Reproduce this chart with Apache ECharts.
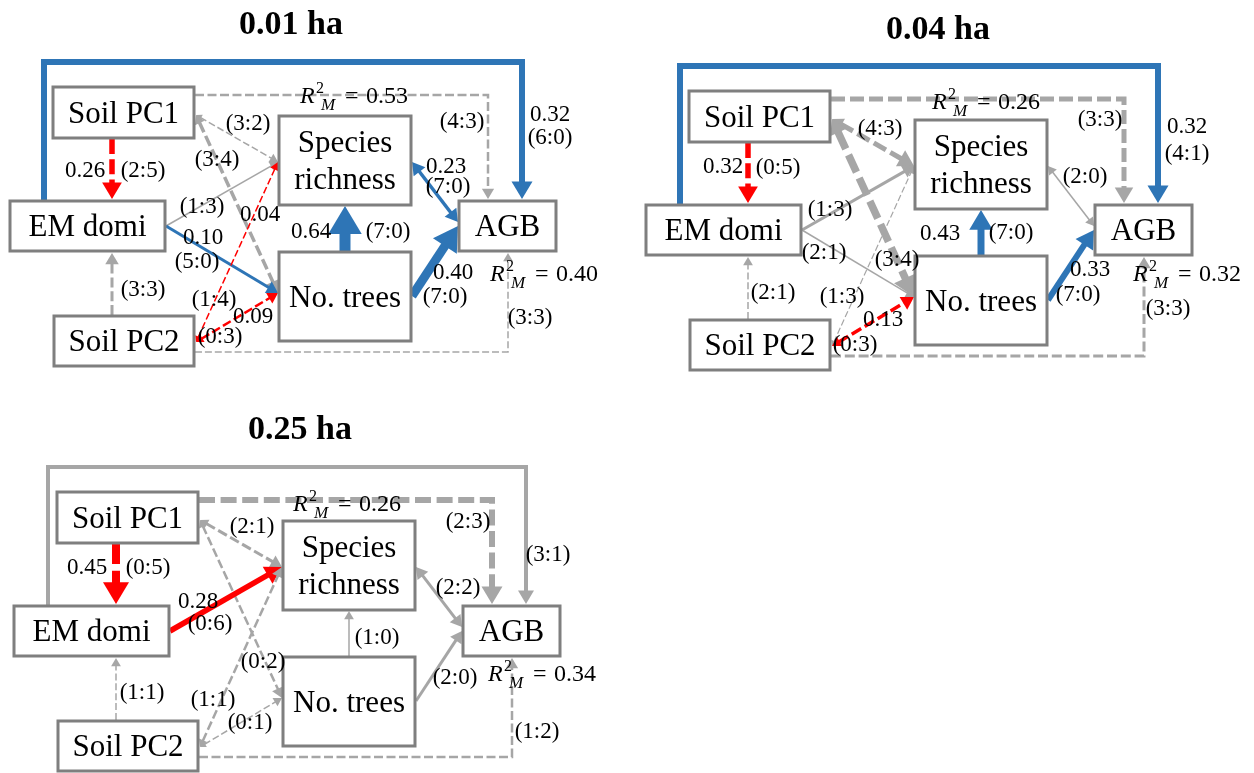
<!DOCTYPE html>
<html>
<head>
<meta charset="utf-8">
<script src="https://cdn.jsdelivr.net/npm/echarts@6/dist/echarts.min.js"></script>
<style>
  html, body { margin: 0; padding: 0; background: #fff; }
  #chart { width: 1254px; height: 773px; }
</style>
</head>
<body>
<div id="chart"></div>
<script>
// ---------- data ----------
const panelTitles = ['0.01 ha', '0.04 ha', '0.25 ha'];
const nodeNames = ['Soil PC1', 'EM domi', 'Soil PC2', 'Species\nrichness', 'No. trees', 'AGB'];
const pathKeys = ['em_agb', 'pc1_agb', 'pc2_agb', 'pc1_em', 'pc2_em', 'pc1_sr', 'pc1_nt',
                  'em_sr', 'em_nt', 'pc2_sr', 'pc2_nt', 'nt_sr', 'sr_agb', 'nt_agb'];

// standardized path coefficients (null = not significant)
const coef001 = [0.32, null, null, 0.26, null, null, null, null, 0.10, 0.04, 0.09, 0.64, 0.23, 0.40];
const coef004 = [0.32, null, null, 0.32, null, null, null, null, null, null, 0.13, 0.43, null, 0.33];
const coef025 = [null, null, null, 0.45, null, null, null, 0.28, null, null, null, null, null, null];

// number of positive : negative estimates per path (null = path absent)
const pos001 = [6, 4, 3, 2, 3, 3, 3, 1, 5, 1, 0, 7, 7, 7];
const neg001 = [0, 3, 3, 5, 3, 2, 4, 3, 0, 4, 3, 0, 0, 0];
const pos004 = [4, 3, 3, 0, 2, 4, 3, 1, 2, 1, 0, 7, 2, 7];
const neg004 = [1, 3, 3, 5, 1, 3, 4, 3, 1, 3, 3, 0, 0, 0];
const pos025 = [3, 2, 1, 0, 1, 2, 0, 0, null, 1, 0, 1, 2, 2];
const neg025 = [1, 3, 2, 5, 1, 1, 2, 6, null, 1, 1, 0, 2, 0];

// marginal R² of species richness and AGB
const r2Richness = [0.53, 0.26, 0.26];
const r2Agb = [0.40, 0.32, 0.34];

// ---------- styling ----------
const COEF = [coef001, coef004, coef025];
const POS = [pos001, pos004, pos025];
const NEG = [neg001, neg004, neg025];
const WIDTH = [
  [6, 2.5, 1.5, 5.5, 3, 1.5, 3.5, 1.5, 3, 1.5, 2.5, 11, 3.5, 9],
  [6, 5, 3, 5.5, 1.5, 5, 7.5, 3, 1.5, 1.2, 3.5, 7, 1.5, 6],
  [4, 6, 2.5, 8, 1.5, 3, 2.5, 5.5, 0, 2.5, 1.5, 1.5, 3, 3]
];
const COLORS = { pos: '#2e75b6', neg: '#ff0000', ns: '#a6a6a6', box: '#7f7f7f', text: '#000000' };
const SERIF = '"Liberation Serif", "Times New Roman", serif';

// ---------- diagram layout (panel units) ----------
const PANEL_W = 600, PANEL_H = 368;
const panelGrids = [[0, 0], [636, 4], [4, 405]];
const nodeBoxes = [
  [53, 87, 194, 138],   // Soil PC1
  [10, 201, 165, 251],  // EM domi
  [54, 316, 194, 366],  // Soil PC2
  [279, 116, 411, 205], // Species richness
  [279, 252, 411, 341], // No. trees
  [459, 201, 556, 251]  // AGB
];
const routes = {
  em_agb:  [[44, 201], [44, 62], [522, 62], [522, 199]],
  pc1_agb: [[195, 95], [488, 95], [488, 199]],
  pc2_agb: [[195, 352], [508, 352], [508, 253]],
  pc1_em:  [[112, 139], [112, 199]],
  pc2_em:  [[112, 315], [112, 253]],
  pc1_sr:  [[196, 115], [278, 162]],
  pc1_nt:  [[196, 115], [278, 293]],
  em_sr:   [[166, 226], [278, 162]],
  em_nt:   [[166, 226], [278, 293]],
  pc2_sr:  [[196, 342], [278, 162]],
  pc2_nt:  [[196, 342], [278, 293]],
  nt_sr:   [[345, 251], [345, 206]],
  sr_agb:  [[412, 162], [458, 222]],
  nt_agb:  [[412, 296], [458, 226]]
};
const twoWay = new Set(['pc1_sr', 'pc1_nt', 'pc2_sr', 'pc2_nt', 'sr_agb']);
const soilSources = new Set(['pc1_agb', 'pc2_agb', 'pc1_em', 'pc2_em', 'pc1_sr', 'pc1_nt', 'pc2_sr', 'pc2_nt']);

// label anchors: [coefficient, counts]
const labelPos = [
  {
    em_agb: [[550, 115], [550, 138]], pc1_agb: [null, [462, 122]], pc2_agb: [null, [530, 318]],
    pc1_em: [[85, 171], [143, 171]], pc2_em: [null, [143, 290]], pc1_sr: [null, [248, 124]],
    pc1_nt: [null, [217, 160]], em_sr: [null, [202, 207]], em_nt: [[203, 238], [197, 262]],
    pc2_sr: [[260, 215], [214, 300]], pc2_nt: [[253, 317], [220, 337]], nt_sr: [[311, 232], [388, 232]],
    sr_agb: [[446, 167], [448, 187]], nt_agb: [[453, 273], [445, 297]]
  },
  {
    em_agb: [[551, 123], [551, 150]], pc1_agb: [null, [464, 116]], pc2_agb: [null, [532, 305]],
    pc1_em: [[87, 163], [142, 164]], pc2_em: [null, [137, 289]], pc1_sr: [null, [244, 125]],
    pc1_nt: [null, [261, 256]], em_sr: [null, [194, 206]], em_nt: [null, [188, 249]],
    pc2_sr: [null, [206, 293]], pc2_nt: [[247, 316], [219, 341]], nt_sr: [[304, 230], [375, 229]],
    sr_agb: [null, [449, 173]], nt_agb: [[454, 266], [442, 291]]
  },
  {
    em_agb: [null, [544, 150]], pc1_agb: [null, [464, 117]], pc2_agb: [null, [533, 327]],
    pc1_em: [[83, 163], [144, 163]], pc2_em: [null, [138, 288]], pc1_sr: [null, [248, 122]],
    pc1_nt: [null, [259, 257]], em_sr: [[194, 197], [206, 219]], em_nt: [null, null],
    pc2_sr: [null, [209, 295]], pc2_nt: [null, [246, 318]], nt_sr: [null, [373, 233]],
    sr_agb: [null, [454, 183]], nt_agb: [null, [451, 273]]
  }
];
const titlePos = [[291, 25], [302, 26], [296, 25]];
const r2Pos = [
  [[300, 97], [490, 275]],
  [[296, 99], [497, 271]],
  [[289, 100], [484, 270]]
];

// ---------- rendering ----------
function pathColor(p, i) {
  if (COEF[p][i] == null) return COLORS.ns;
  return POS[p][i] > NEG[p][i] ? COLORS.pos : COLORS.neg;
}

function renderPath(p, i, api) {
  const key = pathKeys[i];
  const w = WIDTH[p][i];
  const color = pathColor(p, i);
  const pts = routes[key].map(pt => api.coord(pt));
  const heads = [];
  const line = pts.map(a => a.slice());
  function head(tip, prev, scale) {
    const headLen = (5 + 2.1 * w) * scale, halfW = (3 + 1.25 * w) * scale;
    const dx = tip[0] - prev[0], dy = tip[1] - prev[1];
    const L = Math.hypot(dx, dy), ux = dx / L, uy = dy / L;
    const bx = tip[0] - ux * headLen, by = tip[1] - uy * headLen;
    heads.push({
      type: 'polygon',
      shape: { points: [tip, [bx - uy * halfW, by + ux * halfW], [bx + uy * halfW, by - ux * halfW]] },
      style: { fill: color }
    });
    return [bx + ux, by + uy];
  }
  const n = pts.length;
  line[n - 1] = head(pts[n - 1], pts[n - 2], 1);
  if (twoWay.has(key)) line[0] = head(pts[0], pts[1], key === 'sr_agb' ? 1 : 0.72);
  const dash = soilSources.has(key) ? [4 + 2 * w, 2 + 0.6 * w] : null;
  return {
    type: 'group',
    children: [{
      type: 'polyline',
      shape: { points: line },
      style: { stroke: color, lineWidth: w, fill: null, lineDash: dash, lineCap: 'butt', lineJoin: 'miter' }
    }].concat(heads)
  };
}

function txt(pt, s, size, extra) {
  return {
    type: 'text',
    style: Object.assign({
      text: s, x: pt[0], y: pt[1], align: 'center', verticalAlign: 'middle',
      fontSize: size || 23, fontFamily: SERIF, fill: COLORS.text
    }, extra || {})
  };
}

function renderLabels(p, i, api) {
  const key = pathKeys[i];
  const [cp, np] = labelPos[p][key];
  const children = [];
  if (COEF[p][i] != null && cp) children.push(txt(api.coord(cp), COEF[p][i].toFixed(2)));
  if (POS[p][i] != null && np) children.push(txt(api.coord(np), '(' + POS[p][i] + ':' + NEG[p][i] + ')'));
  return { type: 'group', children };
}

function renderNode(p, i, api) {
  const b = nodeBoxes[i];
  const tl = api.coord([b[0], b[1]]), br = api.coord([b[2], b[3]]);
  return {
    type: 'group',
    children: [
      { type: 'rect', shape: { x: tl[0], y: tl[1], width: br[0] - tl[0], height: br[1] - tl[1] },
        style: { fill: '#ffffff', stroke: COLORS.box, lineWidth: 3 } },
      txt([(tl[0] + br[0]) / 2, (tl[1] + br[1]) / 2 + 2], nodeNames[i], 31, { lineHeight: 37 })
    ]
  };
}

// R²_M = value, with superscript 2 and italic subscript M
function r2Label(pt, value) {
  const x = pt[0], y = pt[1];
  const base = { align: 'left', verticalAlign: 'middle', fontFamily: SERIF, fill: COLORS.text };
  return [
    { type: 'text', style: Object.assign({}, base, { text: 'R', x: x, y: y, fontSize: 24, fontStyle: 'italic' }) },
    { type: 'text', style: Object.assign({}, base, { text: '2', x: x + 16, y: y - 8, fontSize: 16 }) },
    { type: 'text', style: Object.assign({}, base, { text: 'M', x: x + 21, y: y + 9, fontSize: 17, fontStyle: 'italic' }) },
    { type: 'text', style: Object.assign({}, base, { text: '=', x: x + 45, y: y, fontSize: 24 }) },
    { type: 'text', style: Object.assign({}, base, { text: value.toFixed(2), x: x + 66, y: y, fontSize: 24 }) }
  ];
}

function renderOverlay(p, api) {
  const children = [
    txt(api.coord(titlePos[p]), panelTitles[p], 34, { fontWeight: 'bold' })
  ].concat(r2Label(api.coord(r2Pos[p][0]), r2Richness[p]), r2Label(api.coord(r2Pos[p][1]), r2Agb[p]));
  return { type: 'group', children };
}

const grid = [], xAxis = [], yAxis = [], series = [];
panelTitles.forEach((t, p) => {
  grid.push({ left: panelGrids[p][0], top: panelGrids[p][1], width: PANEL_W, height: PANEL_H });
  xAxis.push({ type: 'value', gridIndex: p, min: 0, max: PANEL_W, show: false });
  yAxis.push({ type: 'value', gridIndex: p, min: 0, max: PANEL_H, inverse: true, show: false });
  const common = { type: 'custom', coordinateSystem: 'cartesian2d', xAxisIndex: p, yAxisIndex: p, silent: true, animation: false };
  const present = pathKeys.map((k, i) => [i, 0]).filter(d => POS[p][d[0]] != null && WIDTH[p][d[0]] > 0);
  series.push(Object.assign({}, common, { name: t + ' paths', data: present, renderItem: (prm, api) => renderPath(p, api.value(0), api) }));
  series.push(Object.assign({}, common, { name: t + ' nodes', data: nodeNames.map((n, i) => [i, 0]), renderItem: (prm, api) => renderNode(p, api.value(0), api) }));
  series.push(Object.assign({}, common, { name: t + ' labels', data: present, renderItem: (prm, api) => renderLabels(p, api.value(0), api) }));
  series.push(Object.assign({}, common, { name: t + ' titles', data: [[0, 0]], renderItem: (prm, api) => renderOverlay(p, api) }));
});

const chart = echarts.init(document.getElementById('chart'), null, { renderer: 'canvas' });
chart.setOption({ backgroundColor: '#ffffff', animation: false, grid, xAxis, yAxis, series });
</script>
</body>
</html>
